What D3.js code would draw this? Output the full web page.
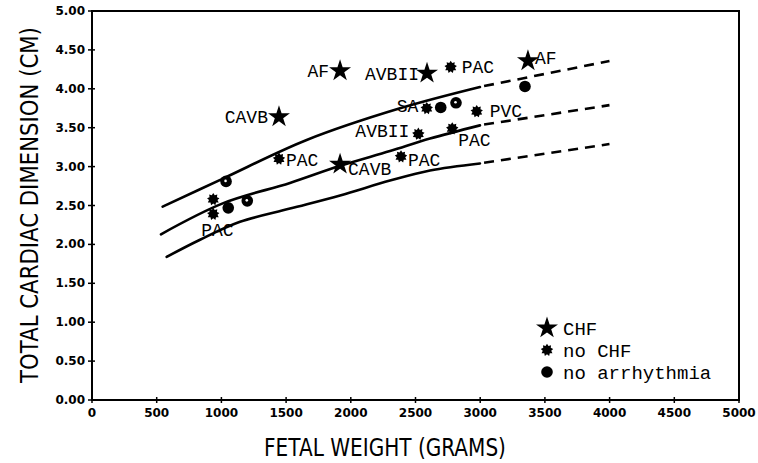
<!DOCTYPE html>
<html>
<head>
<meta charset="utf-8">
<script src="https://cdn.jsdelivr.net/npm/d3@7"></script>
<style>
  html, body { margin: 0; padding: 0; background: #fff; }
  svg { display: block; }
</style>
</head>
<body>
<svg id="chart" width="758" height="463"></svg>
<script>
// ---------- DATA ----------
const xTicks = [0, 500, 1000, 1500, 2000, 2500, 3000, 3500, 4000, 4500, 5000];
const yTicks = [0, 0.5, 1.0, 1.5, 2.0, 2.5, 3.0, 3.5, 4.0, 4.5, 5.0];
const xTitle = "FETAL WEIGHT (GRAMS)";
const yTitle = "TOTAL CARDIAC DIMENSION (CM)";

// CHF (stars)
const chfWeight = [1917, 2589, 1445, 1917, 3369];
const chfDim    = [4.23, 4.20, 3.64, 3.03, 4.36];
const chfLabel  = ["AF", "AVBII", "CAVB", "CAVB", "AF"];

// no CHF (asterisks)
const noChfWeight = [937, 937, 1445, 2388, 2522, 2784, 2587, 2772, 2973];
const noChfDim    = [2.58, 2.39, 3.10, 3.13, 3.42, 3.49, 3.75, 4.28, 3.71];
const noChfLabel  = ["", "PAC", "PAC", "PAC", "AVBII", "PAC", "SA", "PAC", "PVC"];

// no arrhythmia (dots)
const noArrWeight = [1036, 1053, 1200, 2695, 2813, 3346];
const noArrDim    = [2.81, 2.47, 2.56, 3.76, 3.82, 4.03];
const noArrRinged = [true, false, true, false, true, false];

// reference curves (solid part) and extrapolation (dashed)
const upperCurve  = [[546, 2.485], [1012, 2.846], [1659, 3.342], [2380, 3.749], [2998, 4.023]];
const middleCurve = [[533, 2.13], [1015, 2.53], [1530, 2.79], [1917, 3.01], [2303, 3.20], [2612, 3.36], [2998, 3.53]];
const lowerCurve  = [[577, 1.84], [835, 2.06], [1144, 2.29], [1530, 2.46], [1917, 2.63], [2303, 2.82], [2612, 2.95], [2998, 3.04]];
const upperDash   = [[3030, 4.035], [3999, 4.357]];
const middleDash  = [[3030, 3.54], [3999, 3.79]];
const lowerDash   = [[3030, 3.05], [3999, 3.29]];

const legendItems = ["CHF", "no CHF", "no arrhythmia"];

// ---------- LAYOUT (label placement relative to marker) ----------
const chfLabelLayout = [
  {dx: -11, dy: 6, anchor: "end"},
  {dx: -8, dy: 7, anchor: "end"},
  {dx: -11, dy: 6, anchor: "end"},
  {dx: 8, dy: 11, anchor: "start"},
  {dx: 7, dy: 3, anchor: "start"}
];
const noChfLabelLayout = [
  null,
  {dx: -12, dy: 22, anchor: "start"},
  {dx: 7, dy: 7, anchor: "start"},
  {dx: 7, dy: 10, anchor: "start"},
  {dx: -63, dy: 3, anchor: "start"},
  {dx: 6, dy: 18, anchor: "start"},
  {dx: -30, dy: 4, anchor: "start"},
  {dx: 11, dy: 6, anchor: "start"},
  {dx: 13, dy: 6, anchor: "start"}
];

// ---------- CHART ----------
const svg = d3.select("#chart");
const x = d3.scaleLinear().domain([0, 5000]).range([92, 739]);
const y = d3.scaleLinear().domain([0, 5]).range([400, 11]);

const ink = "#000";
const labelFont = "'Liberation Mono', 'Courier New', monospace";
const tickFont = "'DejaVu Sans', sans-serif";

// frame
svg.append("rect")
  .attr("x", x(0)).attr("y", y(5))
  .attr("width", x(5000) - x(0)).attr("height", y(0) - y(5))
  .attr("fill", "none").attr("stroke", ink).attr("stroke-width", 2);

// x ticks
svg.append("g").selectAll("line").data(xTicks).join("line")
  .attr("x1", d => x(d)).attr("x2", d => x(d))
  .attr("y1", y(0) - 3).attr("y2", y(0) + 3)
  .attr("stroke", ink).attr("stroke-width", 1.5);
svg.append("g").selectAll("text").data(xTicks).join("text")
  .attr("x", d => x(d)).attr("y", 417)
  .attr("text-anchor", "middle")
  .attr("font-family", tickFont).attr("font-weight", "bold").attr("font-size", 12)
  .text(d => d3.format("d")(d));

// y ticks
svg.append("g").selectAll("line").data(yTicks).join("line")
  .attr("x1", x(0) - 4).attr("x2", x(0) + 3)
  .attr("y1", d => y(d)).attr("y2", d => y(d))
  .attr("stroke", ink).attr("stroke-width", 1.5);
svg.append("g").selectAll("text").data(yTicks).join("text")
  .attr("x", 85).attr("y", d => y(d) + 4)
  .attr("text-anchor", "end")
  .attr("font-family", tickFont).attr("font-weight", "bold").attr("font-size", 12)
  .text(d => d3.format(".2f")(d));

// axis titles (condensed via horizontal scale to fit measured width)
function condensedTitle(txt, cx, cy, rot, targetLen, size) {
  const g = svg.append("g");
  const t = g.append("text")
    .attr("text-anchor", "middle")
    .attr("font-family", tickFont).attr("font-size", size)
    .text(txt);
  const natural = t.node().getComputedTextLength();
  const s = targetLen / natural;
  g.attr("transform", `translate(${cx},${cy}) rotate(${rot}) scale(${s},1)`);
}
condensedTitle(xTitle, 385, 456, 0, 242, 24);
condensedTitle(yTitle, 38, 205, -90, 356, 24);

// curves
const line = d3.line().x(d => x(d[0])).y(d => y(d[1])).curve(d3.curveCatmullRom.alpha(0.5));
[upperCurve, middleCurve, lowerCurve].forEach(c => {
  svg.append("path").attr("d", line(c))
    .attr("fill", "none").attr("stroke", ink).attr("stroke-width", 2.6).attr("stroke-linecap", "round");
});
[upperDash, middleDash, lowerDash].forEach(c => {
  svg.append("path").attr("d", line(c))
    .attr("fill", "none").attr("stroke", ink).attr("stroke-width", 2.6)
    .attr("stroke-dasharray", "10,7");
});

// marker shapes
const starPath = d3.symbol().type(d3.symbolStar).size(150)();
function asteriskPath(ro, ri, n) {
  const pts = [];
  for (let i = 0; i < n * 2; i++) {
    const r = i % 2 === 0 ? ro : ri;
    const a = Math.PI * i / n - Math.PI / 2;
    pts.push([r * Math.cos(a), r * Math.sin(a)]);
  }
  return "M" + pts.map(p => p[0].toFixed(2) + "," + p[1].toFixed(2)).join("L") + "Z";
}
const astPath = asteriskPath(6.3, 4.3, 9);

function drawStar(g, cx, cy) {
  g.append("path").attr("d", starPath).attr("transform", `translate(${cx},${cy})`).attr("fill", ink);
}
function drawAst(g, cx, cy) {
  g.append("path").attr("d", astPath).attr("transform", `translate(${cx},${cy})`).attr("fill", ink);
}
function drawDot(g, cx, cy, ringed) {
  g.append("circle").attr("cx", cx).attr("cy", cy).attr("r", 5.8).attr("fill", ink);
  if (ringed) g.append("circle").attr("cx", cx - 0.5).attr("cy", cy - 0.5).attr("r", 1.3).attr("fill", "#fff");
}
function drawLabel(g, cx, cy, txt, lay, size) {
  g.append("text").attr("x", cx + lay.dx).attr("y", cy + lay.dy)
    .attr("text-anchor", lay.anchor)
    .attr("font-family", labelFont).attr("font-size", size)
    .text(txt);
}

const marks = svg.append("g");
chfWeight.forEach((w, i) => {
  drawStar(marks, x(w), y(chfDim[i]));
  drawLabel(marks, x(w), y(chfDim[i]), chfLabel[i], chfLabelLayout[i], 18);
});
noChfWeight.forEach((w, i) => {
  drawAst(marks, x(w), y(noChfDim[i]));
  if (noChfLabel[i]) drawLabel(marks, x(w), y(noChfDim[i]), noChfLabel[i], noChfLabelLayout[i], 18);
});
noArrWeight.forEach((w, i) => {
  drawDot(marks, x(w), y(noArrDim[i]), noArrRinged[i]);
});

// legend
const leg = svg.append("g");
const legX = 547, legY0 = 328, legStep = 22;
legendItems.forEach((t, i) => {
  const cy = legY0 + i * legStep;
  if (i === 0) drawStar(leg, legX, cy);
  else if (i === 1) drawAst(leg, legX, cy);
  else drawDot(leg, legX, cy, false);
  leg.append("text").attr("x", 563).attr("y", cy + 7)
    .attr("font-family", labelFont).attr("font-size", 19)
    .text(t);
});
</script>
</body>
</html>
